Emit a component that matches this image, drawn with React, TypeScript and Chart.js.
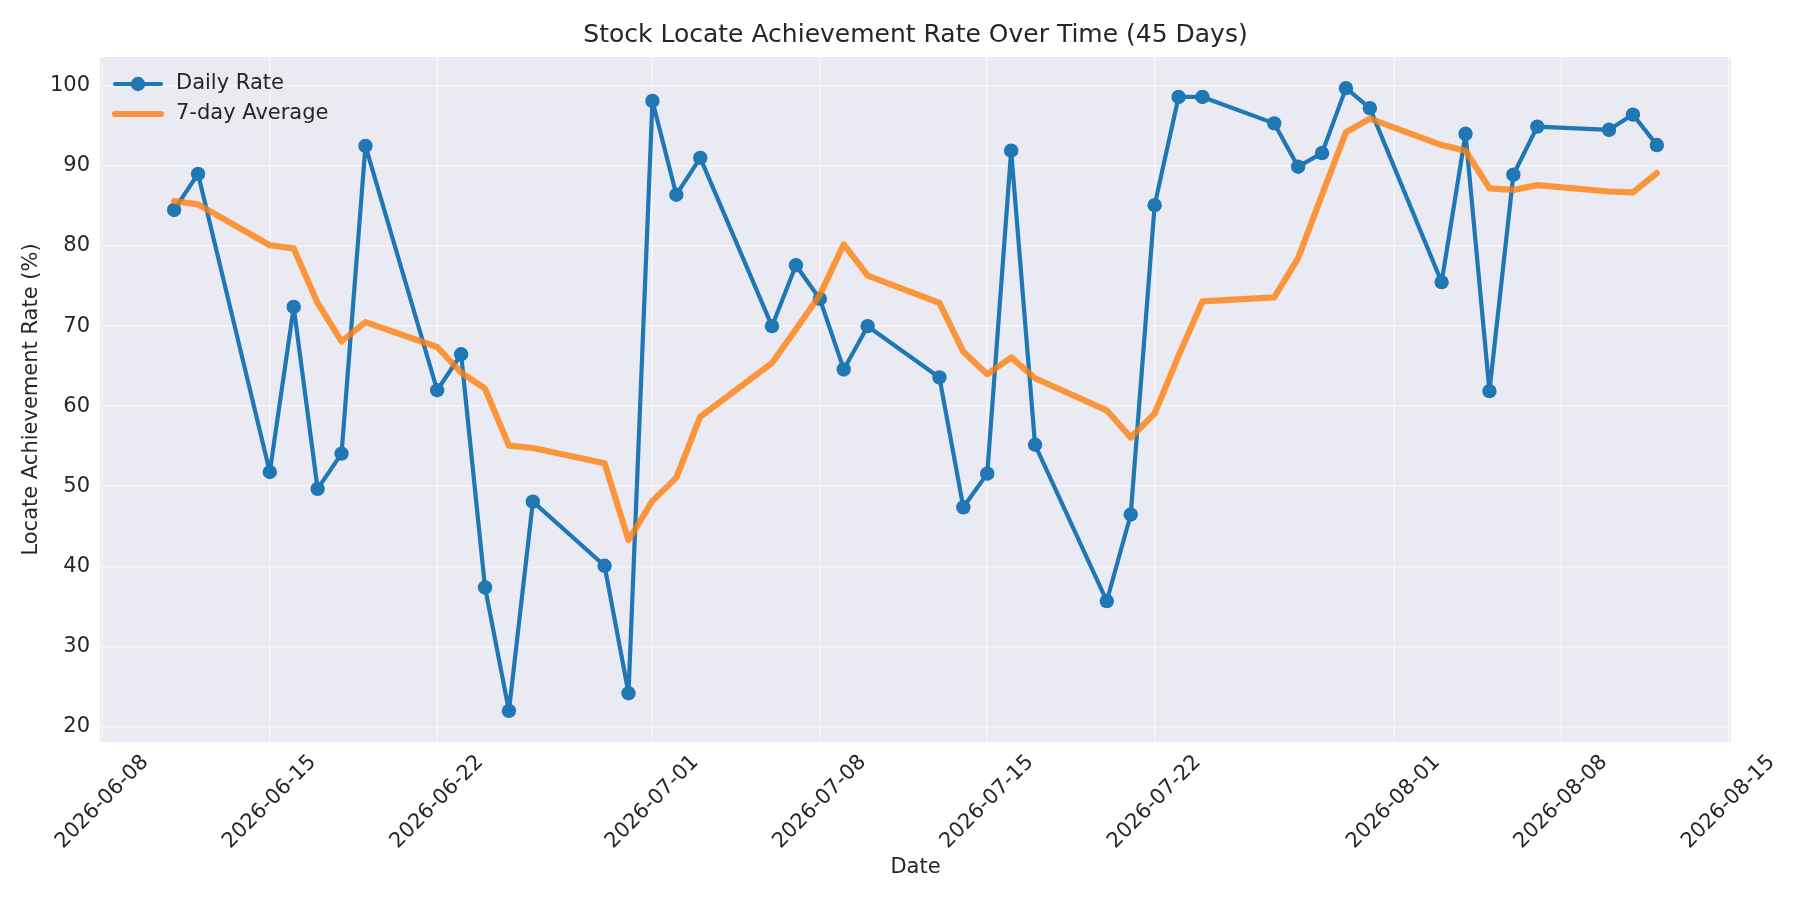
import React, { useEffect, useRef } from 'react';
import { Chart, registerables } from 'chart.js';

Chart.register(...registerables);

// trading days shown on the chart
const dates = [
  '2026-06-11', '2026-06-12',
  '2026-06-15', '2026-06-16', '2026-06-17', '2026-06-18', '2026-06-19',
  '2026-06-22', '2026-06-23', '2026-06-24', '2026-06-25', '2026-06-26',
  '2026-06-29', '2026-06-30', '2026-07-01', '2026-07-02', '2026-07-03',
  '2026-07-06', '2026-07-07', '2026-07-08', '2026-07-09', '2026-07-10',
  '2026-07-13', '2026-07-14', '2026-07-15', '2026-07-16', '2026-07-17',
  '2026-07-20', '2026-07-21', '2026-07-22', '2026-07-23', '2026-07-24',
  '2026-07-27', '2026-07-28', '2026-07-29', '2026-07-30', '2026-07-31',
  '2026-08-03', '2026-08-04', '2026-08-05', '2026-08-06', '2026-08-07',
  '2026-08-10', '2026-08-11', '2026-08-12',
];

const dailyRate = [
  84.5, 89.0,
  51.8, 72.4, 49.7, 54.1, 92.5,
  62.0, 66.5, 37.4, 22.0, 48.1,
  40.1, 24.2, 98.1, 86.4, 91.0,
  70.0, 77.6, 73.4, 64.6, 70.0,
  63.6, 47.4, 51.6, 91.9, 55.2,
  35.7, 46.5, 85.1, 98.6, 98.6,
  95.3, 89.9, 91.6, 99.7, 97.2,
  75.5, 94.0, 61.9, 88.9, 94.9,
  94.5, 96.4, 92.6,
];

const sevenDayAvg = [
  85.6, 85.2,
  80.1, 79.7, 72.9, 68.1, 70.5,
  67.4, 64.2, 62.2, 55.1, 54.8,
  52.9, 43.3, 48.2, 51.1, 58.7,
  65.4, 69.6, 73.9, 80.2, 76.3,
  72.9, 66.8, 64.0, 66.1, 63.5,
  59.5, 56.1, 59.1, 66.3, 73.1,
  73.6, 78.5, 86.4, 94.2, 95.9,
  92.6, 91.9, 87.2, 87.0, 87.6,
  86.8, 86.7, 89.1,
];

const xTickDates = [
  '2026-06-08', '2026-06-15', '2026-06-22', '2026-07-01', '2026-07-08',
  '2026-07-15', '2026-07-22', '2026-08-01', '2026-08-08', '2026-08-15',
];
const yTicks = [20, 30, 40, 50, 60, 70, 80, 90, 100];

// x is a linear scale in days counted from 2026-06-08 (no date adapter available)
const DAY_MS = 86400000;
const BASE = Date.UTC(2026, 5, 8);
const toDay = (s: string) => (Date.parse(s + 'T00:00:00Z') - BASE) / DAY_MS;
const fromDay = (d: number) => new Date(BASE + Math.round(d) * DAY_MS).toISOString().slice(0, 10);

const FONT = '"DejaVu Sans", "Liberation Sans", sans-serif';
const TEXT = '#262626';
const BLUE = '#1f77b4';
const ORANGE = 'rgba(255, 127, 14, 0.8)';
const GRID = 'rgba(255, 255, 255, 0.38)';

// seaborn-like axes background
const plotBackground = {
  id: 'plotBackground',
  beforeDraw(chart: Chart) {
    const { ctx, chartArea } = chart;
    ctx.save();
    ctx.fillStyle = '#EAEAF2';
    ctx.fillRect(chartArea.left, chartArea.top, chartArea.right - chartArea.left, chartArea.bottom - chartArea.top);
    ctx.restore();
  },
};

// matplotlib-style legend inside the axes, line + marker samples
const innerLegend = {
  id: 'innerLegend',
  afterDraw(chart: Chart) {
    const { ctx, chartArea } = chart;
    const left = chartArea.left;
    ctx.save();
    chart.data.datasets.forEach((ds: any, i: number) => {
      const y = chartArea.top + 27 + i * 30;
      ctx.beginPath();
      ctx.moveTo(left + 15, y);
      ctx.lineTo(left + 61, y);
      ctx.strokeStyle = ds.borderColor;
      ctx.lineWidth = ds.borderWidth;
      ctx.lineCap = 'round';
      ctx.stroke();
      if (ds.pointRadius > 0) {
        ctx.beginPath();
        ctx.arc(left + 38, y, ds.pointRadius, 0, Math.PI * 2);
        ctx.fillStyle = ds.pointBackgroundColor;
        ctx.fill();
      }
      ctx.fillStyle = TEXT;
      ctx.font = `21px ${FONT}`;
      ctx.textBaseline = 'middle';
      ctx.textAlign = 'left';
      ctx.fillText(ds.label, left + 76, y);
    });
    ctx.restore();
  },
};

const LocateRateChart: React.FC = () => {
  const canvasRef = useRef<HTMLCanvasElement>(null);
  const chartRef = useRef<Chart | null>(null);

  useEffect(() => {
    document.body.style.margin = '0';
    if (!canvasRef.current) return;
    if (chartRef.current) chartRef.current.destroy();

    const days = dates.map(toDay);

    chartRef.current = new Chart(canvasRef.current, {
      type: 'line',
      data: {
        datasets: [
          {
            label: 'Daily Rate',
            data: days.map((d, i) => ({ x: d, y: dailyRate[i] })),
            borderColor: BLUE,
            backgroundColor: BLUE,
            borderWidth: 4.2,
            pointRadius: 7.2,
            pointBorderWidth: 0,
            pointBackgroundColor: BLUE,
            borderCapStyle: 'round',
            borderJoinStyle: 'round',
            tension: 0,
            order: 2,
          },
          {
            label: '7-day Average',
            data: days.map((d, i) => ({ x: d, y: sevenDayAvg[i] })),
            borderColor: ORANGE,
            backgroundColor: ORANGE,
            borderWidth: 6.2,
            pointRadius: 0,
            borderCapStyle: 'round',
            borderJoinStyle: 'round',
            tension: 0,
            order: 1,
          },
        ],
      },
      options: {
        responsive: false,
        animation: false,
        devicePixelRatio: 1,
        layout: { padding: { left: 0, right: 69, top: 0, bottom: 0 } },
        plugins: {
          legend: { display: false },
          tooltip: { enabled: false },
          title: {
            display: true,
            text: 'Stock Locate Achievement Rate Over Time (45 Days)',
            fullSize: false,
            color: TEXT,
            font: { family: FONT, size: 25, weight: 'normal' },
            padding: { top: 20, bottom: 7 },
          },
        },
        scales: {
          x: {
            type: 'linear',
            min: toDay('2026-06-11') - 3.1,
            max: toDay('2026-08-12') + 3.1,
            afterBuildTicks: (scale: any) => {
              scale.ticks = xTickDates.map((d) => ({ value: toDay(d) }));
            },
            afterFit: (scale: any) => {
              scale.height = 158;
            },
            ticks: {
              autoSkip: false,
              minRotation: 45,
              maxRotation: 45,
              padding: 8,
              labelOffset: 43,
              color: TEXT,
              font: { family: FONT, size: 21 },
              callback: (v: any) => fromDay(Number(v)),
            },
            grid: { color: GRID, lineWidth: 2, drawTicks: false },
            border: { display: false },
            title: {
              display: true,
              text: 'Date',
              color: TEXT,
              font: { family: FONT, size: 21 },
              padding: { top: 0, bottom: 20 },
            },
          },
          y: {
            type: 'linear',
            min: 22.0 - 3.885,
            max: 99.7 + 3.885,
            afterBuildTicks: (scale: any) => {
              scale.ticks = yTicks.map((v) => ({ value: v }));
            },
            afterFit: (scale: any) => {
              scale.width = 100;
            },
            ticks: {
              padding: 10,
              color: TEXT,
              font: { family: FONT, size: 21 },
            },
            grid: { color: GRID, lineWidth: 2, drawTicks: false },
            border: { display: false },
            title: {
              display: true,
              text: 'Locate Achievement Rate (%)',
              color: TEXT,
              font: { family: FONT, size: 21 },
              padding: { top: 19, bottom: 0 },
            },
          },
        },
      },
      plugins: [plotBackground, innerLegend],
    });

    return () => {
      if (chartRef.current) {
        chartRef.current.destroy();
        chartRef.current = null;
      }
    };
  }, []);

  return (
    <div style={{ width: 1800, height: 900, background: '#ffffff' }}>
      <canvas ref={canvasRef} width={1800} height={900}></canvas>
    </div>
  );
};

export default function App() {
  return <LocateRateChart />;
}
